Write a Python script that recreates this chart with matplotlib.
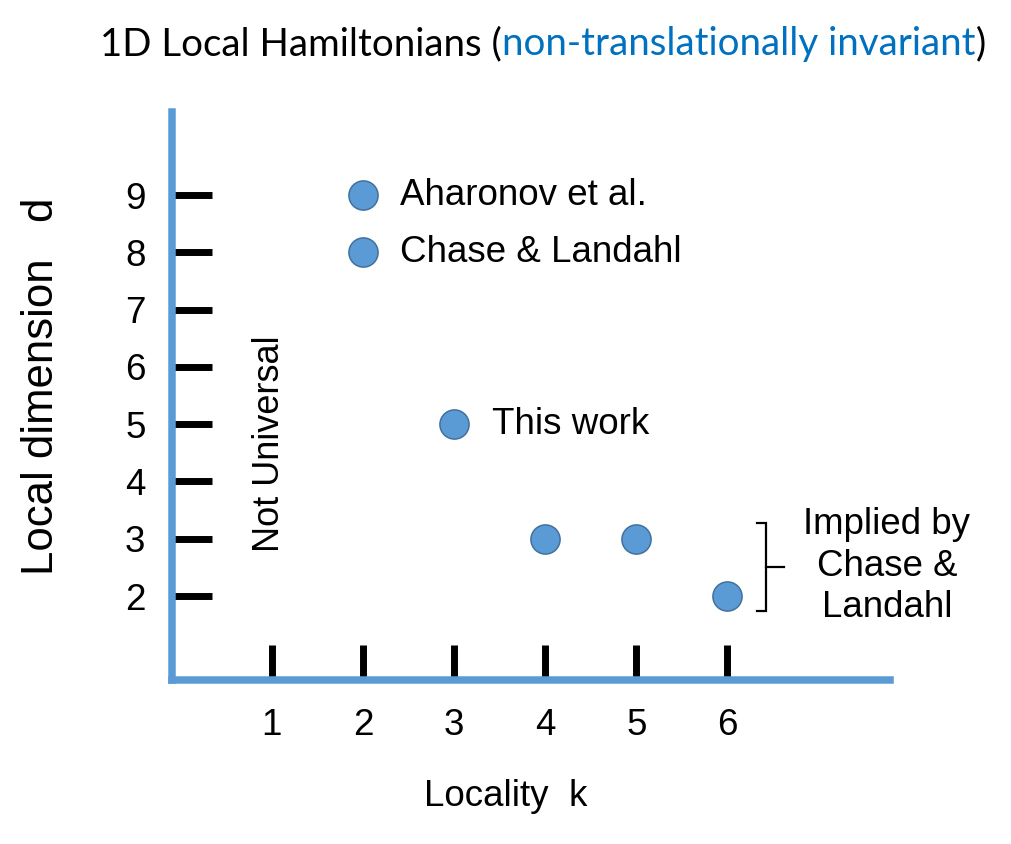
import matplotlib
matplotlib.use("Agg")
import matplotlib.pyplot as plt

plt.rcParams["font.family"] = ["Liberation Sans", "DejaVu Sans"]

AXIS_BLUE = "#5B9BD5"
POINT_BLUE = "#5B9BD5"
POINT_EDGE = "#41719C"
TITLE_BLUE = "#0070C0"

# data
locality = [2, 2, 3, 4, 5, 6]
local_dim = [9, 8, 5, 3, 3, 2]
point_labels = ["Aharonov et al.", "Chase & Landahl", "This work", "", "", ""]
implied = [False, False, False, True, True, True]
x_ticks = [1, 2, 3, 4, 5, 6]
y_ticks = [2, 3, 4, 5, 6, 7, 8, 9]
title_parts = [("1D Local Hamiltonians (", "black"),
               ("non-translationally invariant", TITLE_BLUE),
               (")", "black")]

fig = plt.figure(figsize=(10.11, 8.44), dpi=100)
ax = fig.add_axes([0.170, 0.1943, 0.710, 0.673])
ax.set_xlim(-0.096, 7.78)
ax.set_ylim(0.534, 10.45)

for side in ["top", "right"]:
    ax.spines[side].set_visible(False)
for side in ["left", "bottom"]:
    ax.spines[side].set_color(AXIS_BLUE)
    ax.spines[side].set_linewidth(5.4)

ax.set_xticks(x_ticks)
ax.set_yticks(y_ticks)
ax.tick_params(axis="x", direction="in", length=25, width=5, color="black",
               labelsize=26.5, pad=20)
ax.tick_params(axis="y", direction="in", length=29, width=5, color="black",
               labelsize=26.5, pad=19)

ax.scatter(locality, local_dim, s=441, c=POINT_BLUE, edgecolors=POINT_EDGE,
           linewidths=1.1, zorder=3, clip_on=False)

for k, d, lab in zip(locality, local_dim, point_labels):
    if lab:
        ax.annotate(lab, (k, d), xytext=(27, 0), textcoords="offset points",
                    va="center", ha="left", fontsize=26.5)

ax.text(0.98, 4.65, "Not Universal", rotation=90, ha="center", va="center",
        fontsize=26)

# bracket around the implied points
imp_k = [k for k, f in zip(locality, implied) if f]
imp_d = [d for d, f in zip(local_dim, implied) if f]
bx = max(imp_k) + 0.42
top, bot = max(imp_d) + 0.27, min(imp_d) - 0.26
ax.plot([bx - 0.1, bx, bx, bx - 0.1], [top, top, bot, bot], color="black",
        lw=1.6, clip_on=False, solid_joinstyle="miter")
ax.plot([bx, bx + 0.2], [(top + bot) / 2] * 2, color="black", lw=1.6,
        clip_on=False)
ax.text(7.75, 2.52, "Implied by\nChase &\nLandahl", ha="center", va="center",
        fontsize=26.4, linespacing=1.25)

fig.text(42 / 1011, 1 - 386 / 844, "Local dimension   d", rotation=90,
         ha="center", va="center", fontsize=31.5)
fig.text(506 / 1011, 1 - 797 / 844, "Locality  k", ha="center", va="center",
         fontsize=26.5)

# two-colour title, pieces laid out left to right
fig.canvas.draw()
renderer = fig.canvas.get_renderer()
x0 = 100 / 1011
for txt, col in title_parts:
    t = fig.text(x0, 0.935, txt, color=col, fontsize=27.7, family="Lato",
                 ha="left", va="baseline")
    bb = t.get_window_extent(renderer)
    x0 = bb.x1 / fig.bbox.width

fig.savefig("out.png", dpi=100, facecolor="white")
